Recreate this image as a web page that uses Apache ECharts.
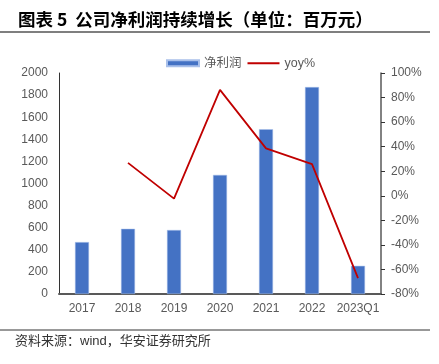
<!DOCTYPE html>
<html>
<head>
<meta charset="utf-8">
<script src="https://cdn.jsdelivr.net/npm/echarts@6/dist/echarts.min.js"></script>
<style>
  html, body { margin: 0; padding: 0; background: #fff; }
  #chart { width: 439px; height: 364px; }
</style>
</head>
<body>
<div id="chart"></div>
<script>
// data
const years = ['2017', '2018', '2019', '2020', '2021', '2022', '2023Q1']
const netProfit = [470, 590, 579, 1078, 1491, 1873, 255]
const yoy = [null, 26.8, -2.3, 86.3, 38.6, 25.8, -67]

const leftTicks = [0, 2000, 200]   // min, max, step
const rightTicks = [-80, 100, 20]

const cjk = '"Noto Sans CJK SC", sans-serif'
const font = '"Liberation Sans", "Noto Sans CJK SC", sans-serif'
const labelColor = '#595959'

const chart = echarts.init(document.getElementById('chart'))

const option = {
  animation: false,
  title: {
    text: '图表 5  公司净利润持续增长（单位：百万元）',
    left: 13,
    top: 6,
    textStyle: {
      fontFamily: cjk,
      fontSize: 17.5,
      fontWeight: 'bold',
      color: '#000'
    }
  },
  graphic: [
    {
      type: 'line',
      shape: { x1: 0, y1: 32, x2: 430, y2: 32 },
      style: { stroke: '#555', lineWidth: 1.5 }
    },
    {
      type: 'line',
      shape: { x1: 0, y1: 330, x2: 430, y2: 330 },
      style: { stroke: '#333', lineWidth: 1 }
    },
    {
      type: 'text',
      left: 15,
      top: 335,
      style: {
        text: '资料来源：wind，华安证券研究所',
        font: '13px ' + font,
        fill: '#333'
      }
    }
  ],
  legend: {
    top: 52,
    left: 161,
    itemGap: 6,
    itemWidth: 32,
    itemHeight: 6,
    textStyle: { fontFamily: font, fontSize: 12.5, color: labelColor },
    data: [
      { name: '净利润', icon: 'rect' },
      { name: 'yoy%', icon: 'path://M0,0L32,0L32,2L0,2Z' }
    ]
  },
  grid: {
    left: 59,
    right: 58,
    top: 73,
    bottom: 70
  },
  xAxis: {
    type: 'category',
    data: years,
    axisLine: { lineStyle: { color: '#595959', width: 2 } },
    axisTick: { show: false },
    axisLabel: {
      color: labelColor,
      fontFamily: font,
      fontSize: 12,
      margin: 9,
      interval: 0
    }
  },
  yAxis: [
    {
      type: 'value',
      min: leftTicks[0],
      max: leftTicks[1],
      interval: leftTicks[2],
      axisLine: { show: true, lineStyle: { color: '#333', width: 1 } },
      axisTick: { show: false },
      splitLine: { show: false },
      axisLabel: {
        color: labelColor,
        fontFamily: font,
        fontSize: 12,
        margin: 11,
        formatter: v => String(v)
      }
    },
    {
      type: 'value',
      min: rightTicks[0],
      max: rightTicks[1],
      interval: rightTicks[2],
      position: 'right',
      axisLine: { show: true, lineStyle: { color: '#595959', width: 1.5 } },
      axisTick: { show: true, length: 4, lineStyle: { color: '#333' } },
      splitLine: { show: false },
      axisLabel: {
        color: labelColor,
        fontFamily: font,
        fontSize: 12,
        margin: 10,
        formatter: '{value}%'
      }
    }
  ],
  series: [
    {
      name: '净利润',
      type: 'bar',
      data: netProfit,
      barWidth: 14,
      itemStyle: {
        color: '#4472C4',
        borderColor: '#A9C0EA',
        borderWidth: 0.5
      }
    },
    {
      name: 'yoy%',
      type: 'line',
      yAxisIndex: 1,
      data: yoy,
      symbol: 'none',
      lineStyle: { color: '#C00000', width: 1.8 },
      itemStyle: { color: '#C00000' }
    }
  ]
}

chart.setOption(option)
</script>
</body>
</html>
